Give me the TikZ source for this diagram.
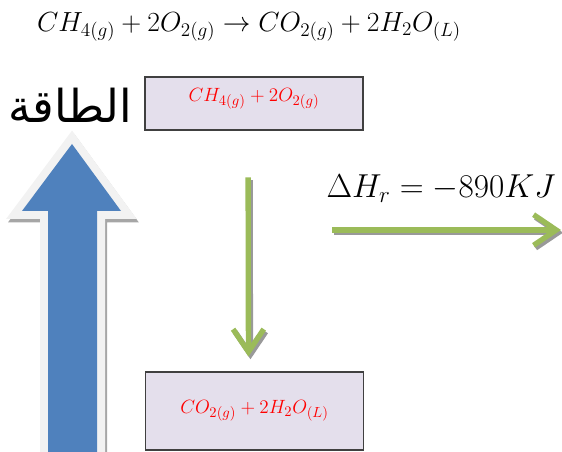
\documentclass[tikz,border=0pt]{standalone}
\usepackage{fontspec}
\newfontfamily\arabicfont[Script=Arabic]{DejaVu Sans}
\TeXXeTstate=1
\usetikzlibrary{arrows.meta,positioning}
\definecolor{boxfill}{HTML}{E4DFEC}
\definecolor{boxline}{HTML}{404040}
\definecolor{arrowgreen}{HTML}{9BBB59}
\definecolor{arrowblue}{HTML}{4F81BD}
\definecolor{rimgray}{HTML}{F2F2F2}
\tikzset{
  statebox/.style={draw=boxline,line width=1.1pt,fill=boxfill,text=red,
    minimum width=163.5pt,font=\fontsize{15}{18}\selectfont},
  greenarrow/.style={draw=arrowgreen,line width=4pt,line cap=butt,
    -{Straight Barb[length=17pt,width=23pt]}},
  greenshadow/.style={greenarrow,draw=gray!80,
    transform canvas={shift={(1.5pt,-2pt)}}},
  energyarrow/.style={fill=arrowblue,
    preaction={draw=gray!70,line width=12pt,transform canvas={shift={(1.5pt,-2.5pt)}}},
    preaction={draw=rimgray,line width=12pt}}
}

\begin{document}
\begin{tikzpicture}[x=0.75pt,y=-0.75pt]
  \useasboundingbox (0,0) rectangle (562,452);

  \coordinate (tip) at (72,144);
  \path[energyarrow] (tip) -- (121,211) -- (97,211) -- (97,460) -- (48,460)
    -- (48,211) -- (22,211) -- cycle;

  \node (equation) at (249,27) {\fontsize{19.5}{23}\selectfont
    $CH_{4(g)}+2O_{2(g)}\rightarrow CO_{2(g)}+2H_2O_{(L)}$};

  \node (energy) at (70,105) {\arabicfont\fontsize{34}{38}\selectfont\beginR الطاقة\endR};

  \node[statebox,minimum height=39.75pt,text depth=13pt] (reactants) at (254,103.5)
    {$CH_{4(g)}+2O_{2(g)}$};
  \node[statebox,minimum height=58.5pt] (products) at (254.5,411)
    {$CO_{2(g)}+2H_2O_{(L)}$};

  \draw[greenshadow,shorten <=35pt,shorten >=11pt]
    ([xshift=-4.5pt]reactants.south) -- ([xshift=-4.5pt]products.north);
  \draw[greenarrow,shorten <=35pt,shorten >=11pt]
    ([xshift=-4.5pt]reactants.south) -- ([xshift=-4.5pt]products.north);

  \coordinate (hstart) at (332,230);
  \coordinate (hend) at (561,230);
  \draw[greenshadow] (hstart) -- (hend);
  \draw[greenarrow] (hstart) -- (hend);
  \node (enthalpy) at (441,189) {\fontsize{24}{28}\selectfont
    $\Delta H_r=-890KJ$};
\end{tikzpicture}
\end{document}
